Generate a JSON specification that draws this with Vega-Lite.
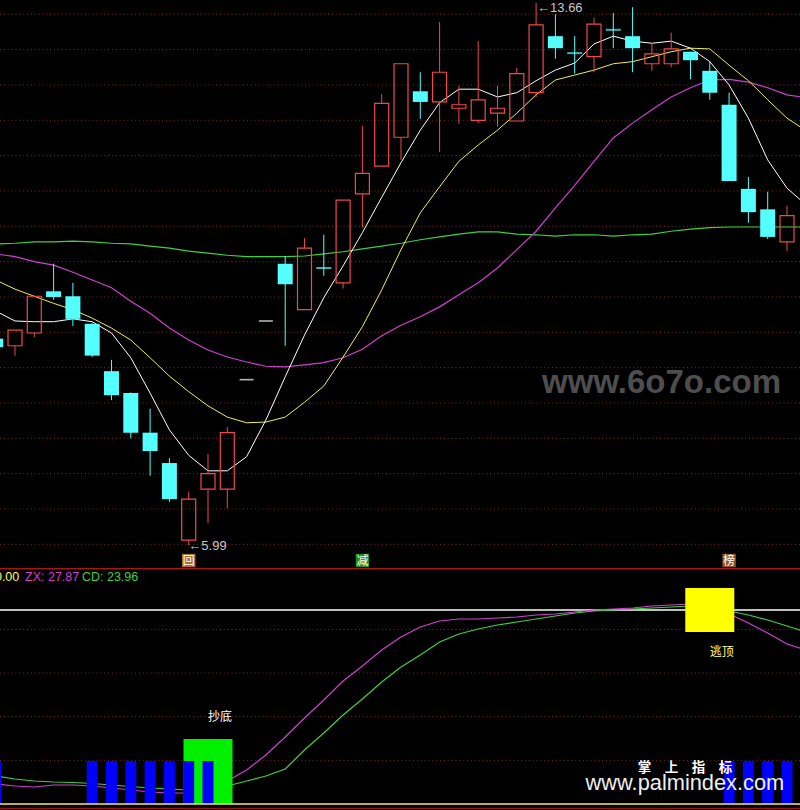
{
  "$schema": "https://vega.github.io/schema/vega-lite/v6.json",
  "background": "#000000",
  "padding": 0,
  "spacing": 0,
  "config": {"view": {"stroke": null}, "scale": {"continuousPadding": 0}},
  "datasets": {
    "grid": [{"g":6.0},{"g":6.5},{"g":7.0},{"g":7.5},{"g":8.0},{"g":8.5},{"g":9.0},{"g":9.5},{"g":10.0},{"g":10.5},{"g":11.0},{"g":11.5},{"g":12.0},{"g":12.5},{"g":13.0},{"g":13.5}],
    "candles": [
      {"i":0,"o":8.91,"h":8.99,"l":8.72,"c":8.79,"t":"down"},
      {"i":1,"o":8.81,"h":9.03,"l":8.67,"c":9.03,"t":"up"},
      {"i":2,"o":8.99,"h":9.51,"l":8.93,"c":9.51,"t":"up"},
      {"i":3,"o":9.58,"h":9.97,"l":9.46,"c":9.50,"t":"down"},
      {"i":4,"o":9.51,"h":9.70,"l":9.09,"c":9.19,"t":"down"},
      {"i":5,"o":9.12,"h":9.13,"l":8.65,"c":8.67,"t":"down"},
      {"i":6,"o":8.45,"h":8.61,"l":8.04,"c":8.11,"t":"down"},
      {"i":7,"o":8.14,"h":8.15,"l":7.50,"c":7.58,"t":"down"},
      {"i":8,"o":7.58,"h":7.92,"l":6.97,"c":7.32,"t":"down"},
      {"i":9,"o":7.15,"h":7.22,"l":6.60,"c":6.64,"t":"down"},
      {"i":10,"o":6.06,"h":6.74,"l":5.99,"c":6.64,"t":"up"},
      {"i":11,"o":6.78,"h":7.28,"l":6.30,"c":7.00,"t":"up"},
      {"i":12,"o":6.78,"h":7.66,"l":6.51,"c":7.58,"t":"up"},
      {"i":13,"o":8.33,"h":8.33,"l":8.33,"c":8.33,"t":"flat"},
      {"i":14,"o":9.16,"h":9.16,"l":9.16,"c":9.16,"t":"flat"},
      {"i":15,"o":9.97,"h":10.08,"l":8.81,"c":9.68,"t":"down"},
      {"i":16,"o":9.32,"h":10.33,"l":9.32,"c":10.19,"t":"up"},
      {"i":17,"o":9.91,"h":10.38,"l":9.80,"c":9.91,"t":"doji"},
      {"i":18,"o":9.70,"h":10.87,"l":9.62,"c":10.87,"t":"up"},
      {"i":19,"o":10.96,"h":11.92,"l":10.48,"c":11.25,"t":"up"},
      {"i":20,"o":11.35,"h":12.37,"l":11.35,"c":12.24,"t":"up"},
      {"i":21,"o":11.76,"h":12.80,"l":11.44,"c":12.80,"t":"up"},
      {"i":22,"o":12.41,"h":12.68,"l":12.02,"c":12.26,"t":"down"},
      {"i":23,"o":12.26,"h":13.39,"l":11.55,"c":12.68,"t":"up"},
      {"i":24,"o":12.17,"h":12.49,"l":11.95,"c":12.22,"t":"up"},
      {"i":25,"o":12.00,"h":13.12,"l":11.96,"c":12.29,"t":"up"},
      {"i":26,"o":12.10,"h":12.49,"l":11.91,"c":12.17,"t":"up"},
      {"i":27,"o":11.99,"h":12.74,"l":11.99,"c":12.66,"t":"up"},
      {"i":28,"o":12.39,"h":13.66,"l":12.33,"c":13.35,"t":"up"},
      {"i":29,"o":13.19,"h":13.50,"l":12.87,"c":13.02,"t":"down"},
      {"i":30,"o":12.95,"h":13.19,"l":12.66,"c":12.95,"t":"doji"},
      {"i":31,"o":12.90,"h":13.45,"l":12.68,"c":13.36,"t":"up"},
      {"i":32,"o":13.28,"h":13.52,"l":13.02,"c":13.28,"t":"doji"},
      {"i":33,"o":13.19,"h":13.60,"l":12.68,"c":13.02,"t":"down"},
      {"i":34,"o":12.80,"h":13.09,"l":12.70,"c":12.94,"t":"up"},
      {"i":35,"o":12.80,"h":13.24,"l":12.75,"c":13.01,"t":"up"},
      {"i":36,"o":12.97,"h":12.97,"l":12.58,"c":12.85,"t":"down"},
      {"i":37,"o":12.70,"h":12.84,"l":12.29,"c":12.39,"t":"down"},
      {"i":38,"o":12.22,"h":12.39,"l":11.14,"c":11.14,"t":"down"},
      {"i":39,"o":11.03,"h":11.20,"l":10.55,"c":10.70,"t":"down"},
      {"i":40,"o":10.74,"h":10.99,"l":10.32,"c":10.35,"t":"down"},
      {"i":41,"o":10.28,"h":10.79,"l":10.15,"c":10.65,"t":"up"}
    ],
    "ma": [
      {"i":0,"ma5":9.30,"ma10":9.74,"ma20":10.11,"ma60":10.25},
      {"i":1,"ma5":9.16,"ma10":9.61,"ma20":10.07,"ma60":10.26},
      {"i":2,"ma5":9.15,"ma10":9.51,"ma20":10.00,"ma60":10.28},
      {"i":3,"ma5":9.15,"ma10":9.41,"ma20":9.95,"ma60":10.28},
      {"i":4,"ma5":9.19,"ma10":9.32,"ma20":9.85,"ma60":10.29},
      {"i":5,"ma5":9.15,"ma10":9.20,"ma20":9.74,"ma60":10.28},
      {"i":6,"ma5":8.99,"ma10":9.06,"ma20":9.63,"ma60":10.26},
      {"i":7,"ma5":8.64,"ma10":8.89,"ma20":9.44,"ma60":10.25},
      {"i":8,"ma5":8.14,"ma10":8.64,"ma20":9.27,"ma60":10.22},
      {"i":9,"ma5":7.62,"ma10":8.38,"ma20":9.06,"ma60":10.19},
      {"i":10,"ma5":7.26,"ma10":8.16,"ma20":8.89,"ma60":10.15},
      {"i":11,"ma5":7.04,"ma10":7.96,"ma20":8.75,"ma60":10.12},
      {"i":12,"ma5":7.04,"ma10":7.80,"ma20":8.65,"ma60":10.09},
      {"i":13,"ma5":7.24,"ma10":7.72,"ma20":8.58,"ma60":10.07},
      {"i":14,"ma5":7.76,"ma10":7.73,"ma20":8.52,"ma60":10.07},
      {"i":15,"ma5":8.37,"ma10":7.80,"ma20":8.51,"ma60":10.07},
      {"i":16,"ma5":8.96,"ma10":8.01,"ma20":8.54,"ma60":10.08},
      {"i":17,"ma5":9.49,"ma10":8.24,"ma20":8.57,"ma60":10.11},
      {"i":18,"ma5":9.94,"ma10":8.65,"ma20":8.64,"ma60":10.14},
      {"i":19,"ma5":10.41,"ma10":9.08,"ma20":8.76,"ma60":10.18},
      {"i":20,"ma5":10.91,"ma10":9.60,"ma20":8.95,"ma60":10.22},
      {"i":21,"ma5":11.40,"ma10":10.17,"ma20":9.10,"ma60":10.26},
      {"i":22,"ma5":11.86,"ma10":10.69,"ma20":9.22,"ma60":10.31},
      {"i":23,"ma5":12.25,"ma10":11.06,"ma20":9.36,"ma60":10.35},
      {"i":24,"ma5":12.44,"ma10":11.42,"ma20":9.53,"ma60":10.39},
      {"i":25,"ma5":12.44,"ma10":11.65,"ma20":9.70,"ma60":10.42},
      {"i":26,"ma5":12.33,"ma10":11.86,"ma20":9.91,"ma60":10.42},
      {"i":27,"ma5":12.39,"ma10":12.10,"ma20":10.17,"ma60":10.39},
      {"i":28,"ma5":12.56,"ma10":12.36,"ma20":10.43,"ma60":10.38},
      {"i":29,"ma5":12.71,"ma10":12.57,"ma20":10.76,"ma60":10.36},
      {"i":30,"ma5":12.81,"ma10":12.64,"ma20":11.08,"ma60":10.38},
      {"i":31,"ma5":13.08,"ma10":12.71,"ma20":11.42,"ma60":10.38},
      {"i":32,"ma5":13.19,"ma10":12.80,"ma20":11.75,"ma60":10.36},
      {"i":33,"ma5":13.12,"ma10":12.83,"ma20":11.96,"ma60":10.38},
      {"i":34,"ma5":13.09,"ma10":12.90,"ma20":12.15,"ma60":10.39},
      {"i":35,"ma5":13.12,"ma10":12.97,"ma20":12.33,"ma60":10.43},
      {"i":36,"ma5":13.02,"ma10":13.02,"ma20":12.46,"ma60":10.46},
      {"i":37,"ma5":12.83,"ma10":13.01,"ma20":12.57,"ma60":10.48},
      {"i":38,"ma5":12.50,"ma10":12.78,"ma20":12.58,"ma60":10.49},
      {"i":39,"ma5":12.03,"ma10":12.56,"ma20":12.54,"ma60":10.49},
      {"i":40,"ma5":11.44,"ma10":12.29,"ma20":12.46,"ma60":10.49},
      {"i":41,"ma5":11.04,"ma10":12.03,"ma20":12.36,"ma60":10.49},
      {"i":42,"ma5":10.80,"ma10":11.85,"ma20":12.32,"ma60":10.49}
    ],
    "sig": [
      {"i":10,"p":5.771,"s":"回"},
      {"i":19,"p":5.771,"s":"减"},
      {"i":38,"p":5.771,"s":"榜"}
    ],
    "plabels": [
      {"i":28.05,"p":13.585,"s":"←13.66"},
      {"i":9.98,"p":5.976,"s":"←5.99"}
    ],
    "wm1": [{"i":34.5,"p":8.141,"s":"www.6o7o.com"}],
    "sub": [
      {"i":0,"zx":10.31,"cd":14.43},
      {"i":1,"zx":9.28,"cd":12.89},
      {"i":2,"zx":8.76,"cd":11.86},
      {"i":3,"zx":9.79,"cd":11.34},
      {"i":4,"zx":9.79,"cd":11.08},
      {"i":5,"zx":9.28,"cd":10.57},
      {"i":6,"zx":8.25,"cd":9.79},
      {"i":7,"zx":7.22,"cd":9.02},
      {"i":8,"zx":6.19,"cd":8.25},
      {"i":9,"zx":5.67,"cd":7.73},
      {"i":10,"zx":5.67,"cd":7.22},
      {"i":11,"zx":7.73,"cd":7.73},
      {"i":12,"zx":11.86,"cd":9.28},
      {"i":13,"zx":17.53,"cd":11.86},
      {"i":14,"zx":25.26,"cd":14.43},
      {"i":15,"zx":34.54,"cd":18.04},
      {"i":16,"zx":44.33,"cd":27.84},
      {"i":17,"zx":53.61,"cd":36.60},
      {"i":18,"zx":63.40,"cd":45.88},
      {"i":19,"zx":71.13,"cd":54.12},
      {"i":20,"zx":79.38,"cd":62.89},
      {"i":21,"zx":86.08,"cd":70.62},
      {"i":22,"zx":91.24,"cd":76.80},
      {"i":23,"zx":94.33,"cd":83.51},
      {"i":24,"zx":95.36,"cd":87.63},
      {"i":25,"zx":95.36,"cd":90.21},
      {"i":26,"zx":95.88,"cd":92.27},
      {"i":27,"zx":96.39,"cd":93.81},
      {"i":28,"zx":97.42,"cd":95.36},
      {"i":29,"zx":97.94,"cd":96.91},
      {"i":30,"zx":98.97,"cd":98.45},
      {"i":31,"zx":100.00,"cd":99.48},
      {"i":32,"zx":100.52,"cd":100.00},
      {"i":33,"zx":101.03,"cd":100.52},
      {"i":34,"zx":102.06,"cd":101.03},
      {"i":35,"zx":102.58,"cd":101.55},
      {"i":36,"zx":103.09,"cd":102.06},
      {"i":37,"zx":102.58,"cd":101.55},
      {"i":38,"zx":97.94,"cd":99.48},
      {"i":39,"zx":93.30,"cd":97.42},
      {"i":40,"zx":88.14,"cd":94.85},
      {"i":41,"zx":82.47,"cd":91.75},
      {"i":42,"zx":79.38,"cd":88.66}
    ],
    "subgrid": [{"g":22.5},{"g":45},{"g":67.5},{"g":90}],
    "levels": [
      {"v":100,"k":"mid"},
      {"v":0,"k":"base"},
      {"v":-2.3,"k":"edge"},
      {"v":121.3,"k":"sep"}
    ],
    "boxes": [
      {"i":11,"lo":0,"hi":33.5,"k":"buy"},
      {"i":37,"lo":88.66,"hi":111.34,"k":"sell"}
    ],
    "blue": [
      {"i":0,"lo":0,"hi":22.16},{"i":5,"lo":0,"hi":22.16},{"i":6,"lo":0,"hi":22.16},{"i":7,"lo":0,"hi":22.16},
      {"i":8,"lo":0,"hi":22.16},{"i":9,"lo":0,"hi":22.16},{"i":10,"lo":0,"hi":22.16},{"i":11,"lo":0,"hi":22.16},
      {"i":38,"lo":0,"hi":22.16},{"i":39,"lo":0,"hi":22.16},{"i":40,"lo":0,"hi":22.16},{"i":41,"lo":0,"hi":22.16}
    ],
    "header": [
      {"i":-0.04,"v":117,"s":"0.00","k":"val"},
      {"i":1.52,"v":117,"s":"ZX: 27.87","k":"zx"},
      {"i":4.47,"v":117,"s":"CD: 23.96","k":"cd"}
    ],
    "subtext": [
      {"i":11,"v":44.8,"s":"抄底","k":"buy"},
      {"i":37,"v":78.1,"s":"逃顶","k":"sell"}
    ],
    "wm2": [{"i":35.71,"v":18.5,"s":"掌　上　指　标"}],
    "wm3": [{"i":35.71,"v":7.2,"s":"www.palmindex.com"}]
  },
  "vconcat": [
    {
      "width": 800,
      "height": 568,
      "resolve": {"scale": {"color": "independent"}},
      "encoding": {
        "x": {"field": "i", "type": "quantitative", "scale": {"domain": [0.2228, 41.674], "nice": false, "zero": false, "padding": 0}, "axis": null}
      },
      "layer": [
        {
          "data": {"name": "grid"},
          "mark": {"type": "rule", "color": "#7e2b2b", "strokeWidth": 1, "strokeDash": [1, 2.86], "clip": true},
          "encoding": {"x": null, "y": {"field": "g", "type": "quantitative", "scale": {"domain": [5.665, 13.702], "nice": false, "zero": false, "padding": 0}, "axis": null}}
        },
        {
          "data": {"name": "ma"},
          "mark": {"type": "line", "color": "#40d040", "strokeWidth": 1.2, "clip": true},
          "encoding": {"y": {"field": "ma60", "type": "quantitative", "scale": {"domain": [5.665, 13.702], "nice": false, "zero": false, "padding": 0}, "axis": null}}
        },
        {
          "data": {"name": "ma"},
          "mark": {"type": "line", "color": "#d040d0", "strokeWidth": 1.2, "clip": true},
          "encoding": {"y": {"field": "ma20", "type": "quantitative", "scale": {"domain": [5.665, 13.702], "nice": false, "zero": false, "padding": 0}, "axis": null}}
        },
        {
          "data": {"name": "ma"},
          "mark": {"type": "line", "color": "#f0f050", "strokeWidth": 1, "clip": true},
          "encoding": {"y": {"field": "ma10", "type": "quantitative", "scale": {"domain": [5.665, 13.702], "nice": false, "zero": false, "padding": 0}, "axis": null}}
        },
        {
          "data": {"name": "ma"},
          "mark": {"type": "line", "color": "#ffffff", "strokeWidth": 1, "clip": true},
          "encoding": {"y": {"field": "ma5", "type": "quantitative", "scale": {"domain": [5.665, 13.702], "nice": false, "zero": false, "padding": 0}, "axis": null}}
        },
        {
          "data": {"name": "candles"},
          "transform": [{"filter": "datum.t == 'up'"}],
          "mark": {"type": "rule", "color": "#ef4a4a", "strokeWidth": 1, "clip": true},
          "encoding": {"y": {"field": "c", "type": "quantitative", "scale": {"domain": [5.665, 13.702], "nice": false, "zero": false, "padding": 0}, "axis": null}, "y2": {"field": "h"}}
        },
        {
          "data": {"name": "candles"},
          "transform": [{"filter": "datum.t == 'up'"}],
          "mark": {"type": "rule", "color": "#ef4a4a", "strokeWidth": 1, "clip": true},
          "encoding": {"y": {"field": "l", "type": "quantitative", "scale": {"domain": [5.665, 13.702], "nice": false, "zero": false, "padding": 0}, "axis": null}, "y2": {"field": "o"}}
        },
        {
          "data": {"name": "candles"},
          "transform": [{"filter": "datum.t == 'up'"}],
          "mark": {"type": "bar", "filled": false, "color": "#ef4a4a", "strokeWidth": 1.2, "size": 14, "clip": true},
          "encoding": {"y": {"field": "o", "type": "quantitative", "scale": {"domain": [5.665, 13.702], "nice": false, "zero": false, "padding": 0}, "axis": null}, "y2": {"field": "c"}}
        },
        {
          "data": {"name": "candles"},
          "transform": [{"filter": "datum.t == 'down' || datum.t == 'doji'"}],
          "mark": {"type": "rule", "color": "#54ffff", "strokeWidth": 1, "clip": true},
          "encoding": {"y": {"field": "l", "type": "quantitative", "scale": {"domain": [5.665, 13.702], "nice": false, "zero": false, "padding": 0}, "axis": null}, "y2": {"field": "h"}}
        },
        {
          "data": {"name": "candles"},
          "transform": [{"filter": "datum.t == 'down'"}],
          "mark": {"type": "bar", "color": "#54ffff", "size": 15, "clip": true},
          "encoding": {"y": {"field": "o", "type": "quantitative", "scale": {"domain": [5.665, 13.702], "nice": false, "zero": false, "padding": 0}, "axis": null}, "y2": {"field": "c"}}
        },
        {
          "data": {"name": "candles"},
          "transform": [{"filter": "datum.t == 'doji'"}],
          "mark": {"type": "tick", "orient": "horizontal", "color": "#54ffff", "size": 15, "thickness": 2, "clip": true},
          "encoding": {"y": {"field": "o", "type": "quantitative", "scale": {"domain": [5.665, 13.702], "nice": false, "zero": false, "padding": 0}, "axis": null}}
        },
        {
          "data": {"name": "candles"},
          "transform": [{"filter": "datum.t == 'flat'"}],
          "mark": {"type": "tick", "orient": "horizontal", "color": "#ffffff", "size": 14, "thickness": 1.6, "clip": true},
          "encoding": {"y": {"field": "o", "type": "quantitative", "scale": {"domain": [5.665, 13.702], "nice": false, "zero": false, "padding": 0}, "axis": null}}
        },
        {
          "data": {"name": "wm1"},
          "mark": {"type": "text", "font": "Liberation Sans", "fontWeight": "bold", "fontSize": 33, "color": "#4e4e4e", "align": "center", "baseline": "alphabetic", "clip": true},
          "encoding": {"y": {"field": "p", "type": "quantitative", "scale": {"domain": [5.665, 13.702], "nice": false, "zero": false, "padding": 0}, "axis": null}, "text": {"field": "s"}}
        },
        {
          "data": {"name": "plabels"},
          "mark": {"type": "text", "font": "Liberation Sans", "fontSize": 13, "color": "#c8c8c8", "align": "left", "baseline": "middle", "clip": true},
          "encoding": {"y": {"field": "p", "type": "quantitative", "scale": {"domain": [5.665, 13.702], "nice": false, "zero": false, "padding": 0}, "axis": null}, "text": {"field": "s"}}
        },
        {
          "data": {"name": "sig"},
          "mark": {"type": "square", "size": 180, "opacity": 1, "clip": true},
          "encoding": {
            "y": {"field": "p", "type": "quantitative", "scale": {"domain": [5.665, 13.702], "nice": false, "zero": false, "padding": 0}, "axis": null},
            "color": {"field": "s", "type": "nominal", "scale": {"domain": ["回", "减", "榜"], "range": ["#b0702c", "#1e8c1e", "#8e5420"]}, "legend": null}
          }
        },
        {
          "data": {"name": "sig"},
          "mark": {"type": "text", "font": "Noto Sans CJK SC", "fontSize": 12, "color": "#ffffff", "align": "center", "baseline": "middle", "clip": true},
          "encoding": {"y": {"field": "p", "type": "quantitative", "scale": {"domain": [5.665, 13.702], "nice": false, "zero": false, "padding": 0}, "axis": null}, "text": {"field": "s"}}
        }
      ]
    },
    {
      "width": 800,
      "height": 242,
      "resolve": {"scale": {"color": "independent"}},
      "encoding": {
        "x": {"field": "i", "type": "quantitative", "scale": {"domain": [0.2228, 41.674], "nice": false, "zero": false, "padding": 0}, "axis": null}
      },
      "layer": [
        {
          "data": {"name": "subgrid"},
          "mark": {"type": "rule", "color": "#7e2b2b", "strokeWidth": 1, "strokeDash": [1, 2.86], "clip": true},
          "encoding": {"x": null, "y": {"field": "g", "type": "quantitative", "scale": {"domain": [-3.093, 121.649], "nice": false, "zero": false, "padding": 0}, "axis": null}}
        },
        {
          "data": {"name": "levels"},
          "transform": [{"filter": "datum.k == 'mid'"}],
          "mark": {"type": "rule", "color": "#ffffff", "strokeWidth": 1.6, "clip": true},
          "encoding": {"x": null, "y": {"field": "v", "type": "quantitative", "scale": {"domain": [-3.093, 121.649], "nice": false, "zero": false, "padding": 0}, "axis": null}}
        },
        {
          "data": {"name": "sub"},
          "mark": {"type": "line", "color": "#40d040", "strokeWidth": 1.2, "clip": true},
          "encoding": {"y": {"field": "cd", "type": "quantitative", "scale": {"domain": [-3.093, 121.649], "nice": false, "zero": false, "padding": 0}, "axis": null}}
        },
        {
          "data": {"name": "sub"},
          "mark": {"type": "line", "color": "#d040d0", "strokeWidth": 1.2, "clip": true},
          "encoding": {"y": {"field": "zx", "type": "quantitative", "scale": {"domain": [-3.093, 121.649], "nice": false, "zero": false, "padding": 0}, "axis": null}}
        },
        {
          "data": {"name": "boxes"},
          "mark": {"type": "bar", "size": 49, "opacity": 1, "clip": true},
          "encoding": {
            "y": {"field": "lo", "type": "quantitative", "scale": {"domain": [-3.093, 121.649], "nice": false, "zero": false, "padding": 0}, "axis": null},
            "y2": {"field": "hi"},
            "color": {"field": "k", "type": "nominal", "scale": {"domain": ["buy", "sell"], "range": ["#00f000", "#ffff00"]}, "legend": null}
          }
        },
        {
          "data": {"name": "blue"},
          "mark": {"type": "bar", "size": 11, "color": "#0000ff", "opacity": 1, "clip": true},
          "encoding": {
            "y": {"field": "lo", "type": "quantitative", "scale": {"domain": [-3.093, 121.649], "nice": false, "zero": false, "padding": 0}, "axis": null},
            "y2": {"field": "hi"}
          }
        },
        {
          "data": {"name": "levels"},
          "transform": [{"filter": "datum.k != 'mid'"}],
          "mark": {"type": "rule", "strokeWidth": 1.6, "clip": true},
          "encoding": {
            "x": null,
            "y": {"field": "v", "type": "quantitative", "scale": {"domain": [-3.093, 121.649], "nice": false, "zero": false, "padding": 0}, "axis": null},
            "color": {"field": "k", "type": "nominal", "scale": {"domain": ["base", "edge", "sep"], "range": ["#f0f060", "#901818", "#a01818"]}, "legend": null}
          }
        },
        {
          "data": {"name": "header"},
          "mark": {"type": "text", "font": "Liberation Sans", "fontSize": 12.5, "align": "left", "baseline": "middle", "clip": true},
          "encoding": {
            "y": {"field": "v", "type": "quantitative", "scale": {"domain": [-3.093, 121.649], "nice": false, "zero": false, "padding": 0}, "axis": null},
            "text": {"field": "s"},
            "color": {"field": "k", "type": "nominal", "scale": {"domain": ["val", "zx", "cd"], "range": ["#ffff55", "#d040d0", "#40d040"]}, "legend": null}
          }
        },
        {
          "data": {"name": "subtext"},
          "mark": {"type": "text", "font": "Noto Sans CJK SC", "fontSize": 12, "align": "left", "baseline": "middle", "clip": true},
          "encoding": {
            "y": {"field": "v", "type": "quantitative", "scale": {"domain": [-3.093, 121.649], "nice": false, "zero": false, "padding": 0}, "axis": null},
            "text": {"field": "s"},
            "color": {"field": "k", "type": "nominal", "scale": {"domain": ["buy", "sell"], "range": ["#ffffff", "#ffff80"]}, "legend": null}
          }
        },
        {
          "data": {"name": "wm2"},
          "mark": {"type": "text", "font": "Noto Sans CJK SC", "fontSize": 13.5, "fontWeight": "bold", "color": "#ffffff", "align": "center", "baseline": "middle", "clip": true},
          "encoding": {
            "y": {"field": "v", "type": "quantitative", "scale": {"domain": [-3.093, 121.649], "nice": false, "zero": false, "padding": 0}, "axis": null},
            "text": {"field": "s"}
          }
        },
        {
          "data": {"name": "wm3"},
          "mark": {"type": "text", "font": "Liberation Sans", "fontSize": 21.8, "color": "#eeeeee", "align": "center", "baseline": "alphabetic", "clip": true},
          "encoding": {
            "y": {"field": "v", "type": "quantitative", "scale": {"domain": [-3.093, 121.649], "nice": false, "zero": false, "padding": 0}, "axis": null},
            "text": {"field": "s"}
          }
        }
      ]
    }
  ]
}
